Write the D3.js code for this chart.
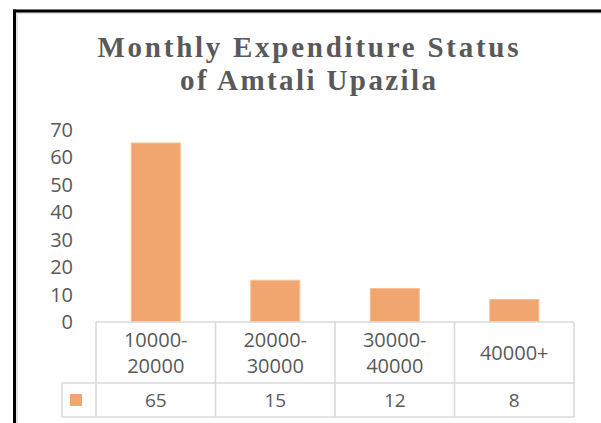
<!DOCTYPE html>
<html>
<head>
<meta charset="utf-8">
<script src="https://cdn.jsdelivr.net/npm/d3@7"></script>
<style>
  html, body { margin: 0; padding: 0; background: #fff; }
  svg { display: block; }
</style>
</head>
<body>
<svg id="chart" width="601" height="423"></svg>
<script>
const titleLines = ["Monthly Expenditure Status", "of Amtali Upazila"];
const categories = [["10000-", "20000"], ["20000-", "30000"], ["30000-", "40000"], ["40000+"]];
const values = [65, 15, 12, 8];
const yTicks = [0, 10, 20, 30, 40, 50, 60, 70];

const svg = d3.select("#chart");
const textColor = "#595959";
const gridColor = "#D9D9D9";
const barColor = "#F1A56F";

// frame
svg.append("rect").attr("x", 0).attr("y", 0).attr("width", 601).attr("height", 423).attr("fill", "#fff");
svg.append("rect").attr("x", 16).attr("y", 12).attr("width", 585).attr("height", 2).attr("fill", "#e3e3e3");
svg.append("rect").attr("x", 16).attr("y", 12).attr("width", 2).attr("height", 411).attr("fill", "#e3e3e3");
svg.append("rect").attr("x", 13).attr("y", 9.5).attr("width", 588).attr("height", 3).attr("fill", "#000");
svg.append("rect").attr("x", 13).attr("y", 9.5).attr("width", 3).attr("height", 414).attr("fill", "#000");

// title
const titleX = 308;
const titleW = [421, 256];
const titleY = [57, 89.5];
titleLines.forEach((t, i) => {
  svg.append("text")
    .attr("x", titleX).attr("y", titleY[i])
    .attr("text-anchor", "middle")
    .attr("font-family", "'Liberation Serif', 'Times New Roman', serif")
    .attr("font-weight", "bold")
    .attr("font-size", 29)
    .attr("fill", textColor)
    .attr("textLength", titleW[i])
    .attr("lengthAdjust", "spacing")
    .text(t);
});

// scales
const x = d3.scaleBand().domain(d3.range(categories.length)).range([96, 574]).padding(0);
const y = d3.scaleLinear().domain([0, 70]).range([321.5, 129.3]);

// y axis labels (no line)
const yAxis = d3.axisLeft(y).tickValues(yTicks).tickSize(0).tickPadding(0);
const yg = svg.append("g").attr("transform", "translate(73,0)").call(yAxis);
yg.select(".domain").remove();
yg.selectAll("text")
  .attr("font-family", "'Open Sans', sans-serif")
  .attr("font-size", 20)
  .attr("fill", textColor)
  .attr("dy", "0.36em");

// bars
const bw = x.bandwidth() * 0.41;
svg.append("g").selectAll("rect").data(values).join("rect")
  .attr("x", (d, i) => x(i) + x.bandwidth() / 2 - bw / 2)
  .attr("y", d => y(d))
  .attr("width", bw)
  .attr("height", d => y(0) - y(d))
  .attr("fill", barColor)
  .attr("stroke", "#F6BE95")
  .attr("stroke-width", 1);

// data table
const tTop = 322, tMid = 383, tBot = 417, legLeft = 62;
const tg = svg.append("g").attr("stroke", gridColor).attr("stroke-width", 1.6).attr("fill", "none");
tg.append("line").attr("x1", 96).attr("x2", 574).attr("y1", tTop).attr("y2", tTop);
tg.append("line").attr("x1", legLeft).attr("x2", 574).attr("y1", tMid).attr("y2", tMid);
tg.append("line").attr("x1", legLeft).attr("x2", 574).attr("y1", tBot).attr("y2", tBot);
tg.append("line").attr("x1", legLeft).attr("x2", legLeft).attr("y1", tMid).attr("y2", tBot);
const vx = d3.range(categories.length).map(i => x(i)).concat([x.range()[1]]);
tg.selectAll("line.v").data(vx).join("line").attr("class", "v")
  .attr("x1", d => d).attr("x2", d => d).attr("y1", tTop).attr("y2", tBot);

// category labels
const catG = svg.append("g");
categories.forEach((lines, i) => {
  const cx = x(i) + x.bandwidth() / 2;
  const lh = 26;
  const cy = (tTop + tMid) / 2;
  lines.forEach((l, j) => {
    catG.append("text")
      .attr("x", cx)
      .attr("y", cy + (j - (lines.length - 1) / 2) * lh)
      .attr("dy", "0.36em")
      .attr("text-anchor", "middle")
      .attr("font-family", "'Open Sans', sans-serif")
      .attr("font-size", 20)
      .attr("fill", textColor)
      .text(l);
  });
});

// values row
svg.append("g").selectAll("text").data(values).join("text")
  .attr("x", (d, i) => x(i) + x.bandwidth() / 2)
  .attr("y", (tMid + tBot) / 2)
  .attr("dy", "0.36em")
  .attr("text-anchor", "middle")
  .attr("font-family", "'Open Sans', sans-serif")
  .attr("font-size", 19)
  .attr("fill", textColor)
  .text(d => d);

// legend key
svg.append("rect").attr("x", 70).attr("y", 394).attr("width", 12).attr("height", 12).attr("fill", barColor);
</script>
</body>
</html>
